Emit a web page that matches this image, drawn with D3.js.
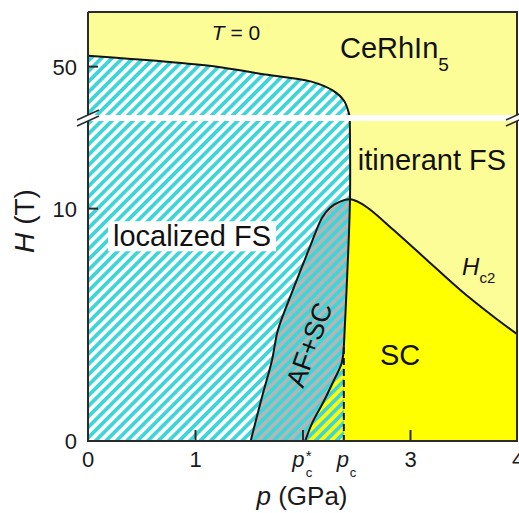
<!DOCTYPE html>
<html><head><meta charset="utf-8">
<script src="https://cdn.jsdelivr.net/npm/d3@7"></script>
<style>
html,body{margin:0;padding:0;background:#fff;}
svg{display:block;font-family:"Liberation Sans",Arial,Helvetica,sans-serif;}
</style></head><body>
<svg id="chart" width="519" height="513"></svg>
<script>
// Pressure axis (GPa)
const pTicks = [0, 1, 2, 3, 4];
const pTickLabels = ["0", "1", "", "3", "4"];
// Field axis (T), split into a low-field and a high-field panel
const hTicksLow = [0, 10];
const hTickLabelsLow = ["0", "10"];
const hTicksHigh = [50];
const hTickLabelsHigh = ["50"];
const lowRange = [0, 13.9];
const highRange = [40.6, 60];

// FS boundary in the high-field panel: [p, H]
const fsHigh = [[0, 52.0], [0.4, 51.4], [0.73, 50.9], [1.2, 50.0], [1.6, 48.7], [2.07, 47.3], [2.28, 45.6], [2.38, 43.8], [2.425, 41.6], [2.435, 40.6]];
// FS / AF boundary in the low-field panel, down to p_c
const fsLow = [[2.435, 13.9], [2.437, 10.4], [2.41, 7.0], [2.38, 4.05]];
// Hc2: left branch (edge of AF+SC) and right branch
const hc2Left = [[1.513, 0], [1.619, 1.9], [1.712, 3.49], [1.767, 4.78], [1.907, 6.51], [2.065, 8.36], [2.177, 9.61], [2.251, 10.04], [2.344, 10.3], [2.437, 10.4]];
const hc2Right = [[2.437, 10.4], [2.53, 10.25], [2.623, 9.96], [2.84, 9.09], [3.15, 7.8], [3.46, 6.51], [3.77, 5.36], [4.0, 4.57]];
// AF+SC / SC boundary from p_c down to p_c*
const afscEdge = [[2.38, 4.05], [2.36, 3.36], [2.28, 2.54], [2.19, 1.68], [2.09, 0.82], [2.02, 0]];
const pcStar = 2.02;
const pc = 2.38;

const svg = d3.select("#chart");
const L = 88, R = 518, T = 12, B = 441, BRK = 118;

const x = d3.scaleLinear().domain([0, 4]).range([L, R]);
const yLo = d3.scaleLinear().domain(lowRange).range([B, BRK]);
const yHi = d3.scaleLinear().domain(highRange).range([BRK, T]);
const lo = d => [x(d[0]), yLo(d[1])];
const hi = d => [x(d[0]), yHi(d[1])];

const smooth = d3.line().curve(d3.curveCatmullRom.alpha(0.5));
const straight = d3.line();

// Join several point runs into one closed outline
function outline(parts) {
  return parts.map((part, i) => {
    const s = (part.curved ? smooth : straight)(part.pts);
    return i ? "L" + s.slice(1) : s;
  }).join("") + "Z";
}

const defs = svg.append("defs");
defs.append("clipPath").attr("id", "plotClip")
  .append("rect").attr("x", L).attr("y", T).attr("width", R - L).attr("height", B - T);
const pat = defs.append("pattern").attr("id", "hatch")
  .attr("patternUnits", "userSpaceOnUse")
  .attr("width", 7.4).attr("height", 7.4)
  .attr("patternTransform", "rotate(45)");
pat.append("rect").attr("x", 0).attr("y", 0).attr("width", 3.7).attr("height", 7.4).attr("fill", "#3ed5d8");

const plot = svg.append("g").attr("clip-path", "url(#plotClip)");

// Itinerant background
plot.append("rect").attr("x", L).attr("y", T).attr("width", R - L).attr("height", B - T).attr("fill", "#fdfd98");

// Localized FS region
const localizedPath = outline([
  { pts: [lo([0, 0]), hi([0, fsHigh[0][1]])] },
  { pts: fsHigh.map(hi), curved: true },
  { pts: fsLow.map(lo), curved: true },
  { pts: [lo([pc, fsLow[fsLow.length - 1][1]]), lo([pc, 0])] }
]);
plot.append("path").attr("d", localizedPath).attr("fill", "#ffffff");

// AF+SC region
const afscPath = outline([
  { pts: hc2Left.map(lo), curved: true },
  { pts: fsLow.slice(1).map(lo), curved: true },
  { pts: afscEdge.map(lo), curved: true }
]);
plot.append("path").attr("d", afscPath).attr("fill", "#b5b5b5");

// SC region
const scPath = outline([
  { pts: hc2Right.map(lo), curved: true },
  { pts: [lo([4, 0]), lo([pcStar, 0])] },
  { pts: afscEdge.slice().reverse().map(lo), curved: true },
  { pts: fsLow.slice(1).reverse().map(lo), curved: true }
]);
plot.append("path").attr("d", scPath).attr("fill", "#ffff00");

// Hatching over the whole localized side
plot.append("path").attr("d", localizedPath).attr("fill", "url(#hatch)");

// Label box for "localized FS"
const locLabel = plot.append("text")
  .attr("x", x(0.233)).attr("y", yLo(8.38))
  .attr("font-size", 29).attr("fill", "#111")
  .text("localized FS");
const bb = locLabel.node().getBBox();
plot.insert("rect", "text").attr("x", bb.x - 5).attr("y", bb.y + 1)
  .attr("width", bb.width + 10).attr("height", bb.height - 2).attr("fill", "#fff");

// Phase boundaries
const lineStyle = sel => sel.attr("fill", "none").attr("stroke", "#141414").attr("stroke-width", 2).attr("stroke-linejoin", "round");
plot.append("path").attr("d", smooth(fsHigh.map(hi))).call(lineStyle);
plot.append("path").attr("d", smooth(fsLow.map(lo))).call(lineStyle);
plot.append("path").attr("d", smooth(hc2Left.concat(hc2Right.slice(1)).map(lo))).call(lineStyle);
plot.append("path").attr("d", smooth(afscEdge.map(lo))).call(lineStyle);
plot.append("path").attr("d", straight([lo([pc, fsLow[fsLow.length - 1][1]]), lo([pc, 0])]))
  .call(lineStyle).attr("stroke-dasharray", "7,4");

// Axis break band
svg.append("rect").attr("x", L - 2).attr("y", BRK - 3).attr("width", R - L + 4).attr("height", 6).attr("fill", "#fff");

// Frame
const frame = svg.append("g").attr("fill", "none").attr("stroke", "#2b2b2b").attr("stroke-width", 2);
frame.append("line").attr("x1", L).attr("x2", R).attr("y1", T).attr("y2", T);
frame.append("line").attr("x1", L).attr("x2", R).attr("y1", B).attr("y2", B);
frame.append("line").attr("x1", L).attr("x2", L).attr("y1", T).attr("y2", BRK - 3);
frame.append("line").attr("x1", L).attr("x2", L).attr("y1", BRK + 3).attr("y2", B + 1);
frame.append("line").attr("x1", R - 1).attr("x2", R - 1).attr("y1", T).attr("y2", BRK - 3);
frame.append("line").attr("x1", R - 1).attr("x2", R - 1).attr("y1", BRK + 3).attr("y2", B + 1);

// Break marks
[L, R - 1].forEach(cx => {
  [-3, 3].forEach(off => {
    frame.append("line").attr("x1", cx - 11).attr("y1", BRK + off + 5)
      .attr("x2", cx + 11).attr("y2", BRK + off - 5).attr("stroke-width", 1.6);
  });
});

// Ticks (inward)
pTicks.filter(v => v > 0 && v < 4).forEach(v => {
  frame.append("line").attr("x1", x(v)).attr("x2", x(v)).attr("y1", B).attr("y2", B - 11);
});
hTicksLow.filter(v => v > 0).forEach(v => {
  frame.append("line").attr("x1", L).attr("x2", L + 10).attr("y1", yLo(v)).attr("y2", yLo(v));
});
hTicksHigh.forEach(v => {
  frame.append("line").attr("x1", L).attr("x2", L + 10).attr("y1", yHi(v)).attr("y2", yHi(v));
});

// Tick labels
const tickText = svg.append("g").attr("font-size", 22).attr("fill", "#1a1a1a");
pTicks.forEach((v, i) => {
  if (!pTickLabels[i]) return;
  tickText.append("text").attr("x", x(v)).attr("y", 467).attr("text-anchor", "middle").text(pTickLabels[i]);
});
hTicksLow.forEach((v, i) => {
  tickText.append("text").attr("x", 77).attr("y", yLo(v) + 8).attr("text-anchor", "end").text(hTickLabelsLow[i]);
});
hTicksHigh.forEach((v, i) => {
  tickText.append("text").attr("x", 77).attr("y", yHi(v) + 8).attr("text-anchor", "end").text(hTickLabelsHigh[i]);
});

// p_c* and p_c markers on the pressure axis
const pLab = svg.append("g").attr("fill", "#1a1a1a");
pLab.append("text").attr("x", x(pcStar) - 13).attr("y", 467).attr("font-size", 22).attr("font-style", "italic").text("p");
pLab.append("text").attr("x", x(pcStar) + 0.5).attr("y", 477).attr("font-size", 13).text("c");
pLab.append("text").attr("x", x(pcStar) + 0.5).attr("y", 461).attr("font-size", 15).text("*");
pLab.append("text").attr("x", x(pc) - 7).attr("y", 467).attr("font-size", 22).attr("font-style", "italic").text("p");
pLab.append("text").attr("x", x(pc) + 6).attr("y", 477).attr("font-size", 13).text("c");

// Axis titles
const xt = svg.append("text").attr("x", 302).attr("y", 505).attr("text-anchor", "middle").attr("font-size", 26).attr("fill", "#1a1a1a");
xt.append("tspan").attr("font-style", "italic").text("p");
xt.append("tspan").text(" (GPa)");
const yt = svg.append("text").attr("transform", "translate(34,221) rotate(-90)").attr("text-anchor", "middle").attr("font-size", 28).attr("fill", "#1a1a1a");
yt.append("tspan").attr("font-style", "italic").text("H");
yt.append("tspan").text(" (T)");

// Region annotations
const ann = svg.append("g").attr("fill", "#111");
const t0 = ann.append("text").attr("x", x(1.377)).attr("y", yHi(54.9)).attr("text-anchor", "middle").attr("font-size", 21);
t0.append("tspan").attr("font-style", "italic").text("T");
t0.append("tspan").text(" = 0");
const ce = ann.append("text").attr("x", x(2.344)).attr("y", yHi(51.6)).attr("font-size", 29);
ce.append("tspan").text("CeRhIn");
ce.append("tspan").attr("font-size", 19).attr("dy", 13).text("5");
ann.append("text").attr("x", x(2.51)).attr("y", yLo(11.68)).attr("font-size", 29).text("itinerant FS");
ann.append("text").attr("x", x(2.716)).attr("y", yLo(3.28)).attr("font-size", 29).text("SC");
ann.append("text").attr("transform", `translate(${x(2.06)},${yLo(4.14)}) rotate(-70)`)
  .attr("text-anchor", "middle").attr("dominant-baseline", "central").attr("font-size", 27).text("AF+SC");
const hc = ann.append("text").attr("x", x(3.48)).attr("y", yLo(7.16)).attr("font-size", 24);
hc.append("tspan").attr("font-style", "italic").text("H");
hc.append("tspan").attr("font-size", 15).attr("dy", 8).text("c2");
</script>
</body></html>
